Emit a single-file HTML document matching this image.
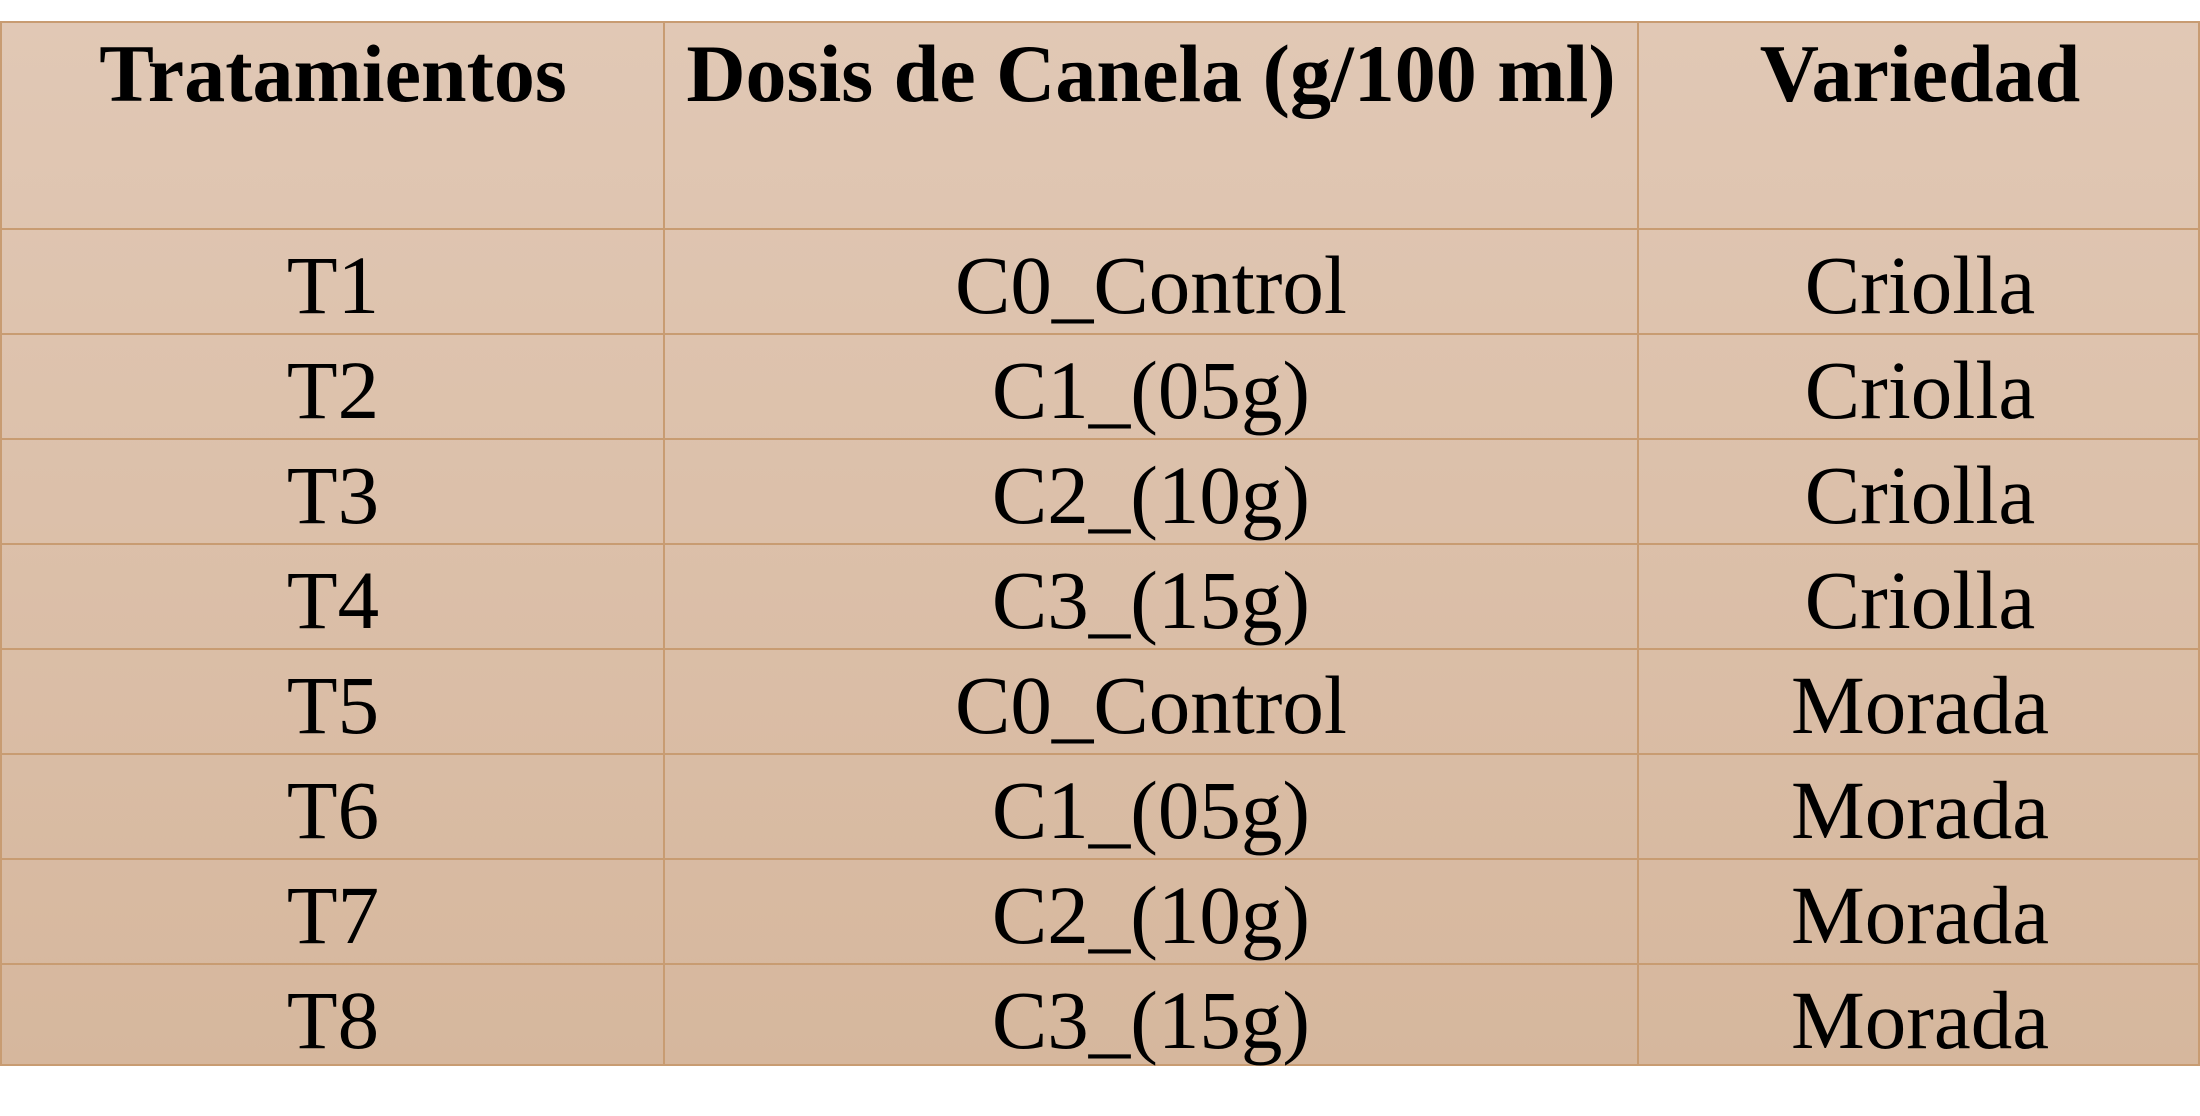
<!DOCTYPE html>
<html><head><meta charset="utf-8"><style>
html,body{margin:0;padding:0;background:#fff;width:2200px;height:1116px;overflow:hidden}
#tbl{position:absolute;left:0;top:21px;width:2200px;height:1045px;background:linear-gradient(#e1c8b5,#d6b79d);box-sizing:border-box;border:2px solid #c89c72}
.cell{position:absolute;box-sizing:border-box;text-align:center;font-family:"Liberation Serif",serif;color:#000;white-space:nowrap}
.h{font-weight:bold;font-size:82px;line-height:82px;padding-top:10px}
.b{font-size:83px;line-height:83px;padding-top:15px}
.hl{position:absolute;left:0;width:2200px;height:2px;background:#c89c72}
.vl{position:absolute;top:0;height:1041px;width:2px;background:#c89c72}
</style></head><body>
<div id="tbl"></div>
<script>
const trat=["T1","T2","T3","T4","T5","T6","T7","T8"];
const dosis=["C0_Control","C1_(05g)","C2_(10g)","C3_(15g)","C0_Control","C1_(05g)","C2_(10g)","C3_(15g)"];
const variedad=["Criolla","Criolla","Criolla","Criolla","Morada","Morada","Morada","Morada"];
const headers=["Tratamientos","Dosis de Canela (g/100 ml)","Variedad"];
const tbl=document.getElementById('tbl');
const colX=[0,662,1636,2200];
const headH=206,rowH=105;
function cell(cls,text,c,top,h){
  const d=document.createElement('div');
  d.className='cell '+cls;
  d.style.left=colX[c]+'px';d.style.width=(colX[c+1]-colX[c])+'px';
  d.style.top=top+'px';d.style.height=h+'px';
  d.textContent=text;
  tbl.appendChild(d);return d;
}
headers.forEach((t,i)=>{
  const d=cell('h',t,i,0,headH);
  
  
});
trat.forEach((t,r)=>{
  const top=headH+r*rowH;
  [t,dosis[r],variedad[r]].forEach((v,c)=>{
    const d=cell('b',v,c,top,rowH);
    
    
  });
  const l=document.createElement('div');l.className='hl';l.style.top=(top-1)+'px';
  
  
  tbl.appendChild(l);
});
[662,1636].forEach(x=>{
  const v=document.createElement('div');v.className='vl';v.style.left=(x-1)+'px';
  
  
  tbl.appendChild(v);
});
</script>
</body></html>
